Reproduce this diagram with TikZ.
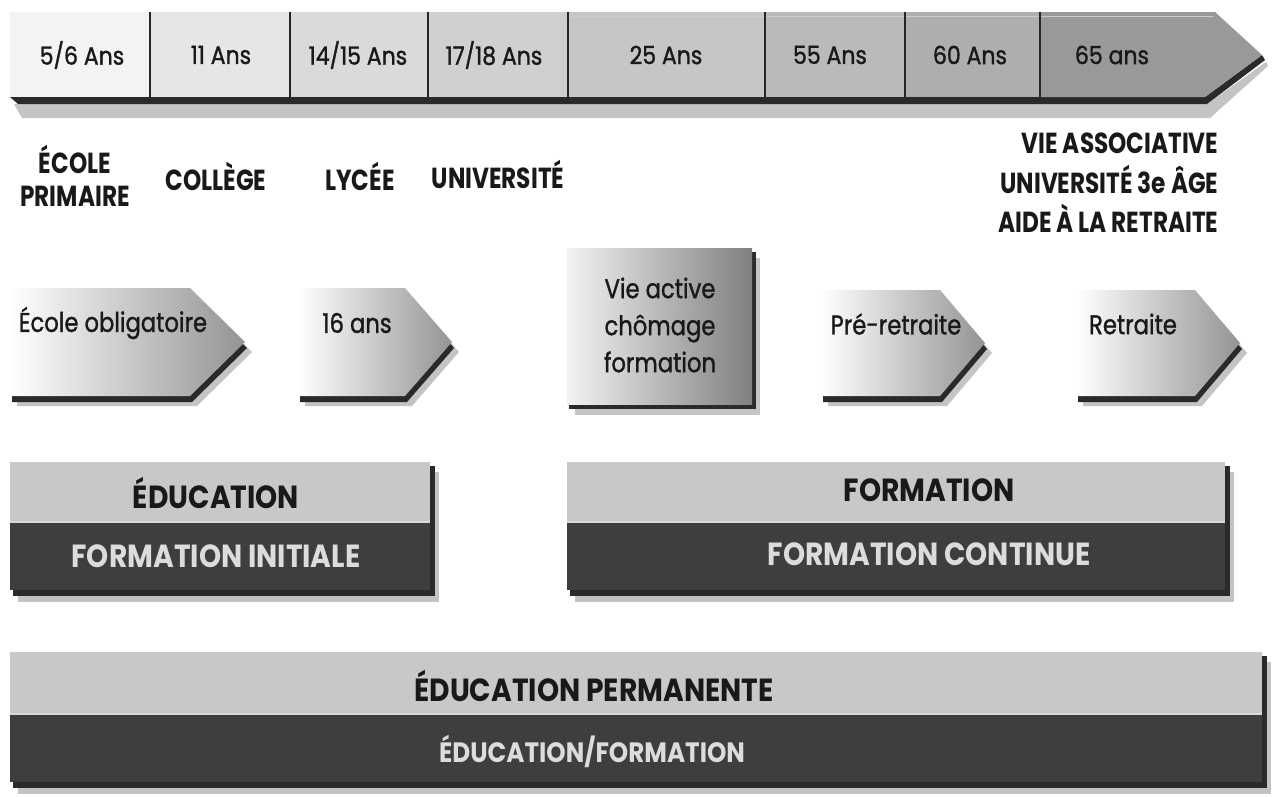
\documentclass[tikz,border=0pt]{standalone}
\usepackage{fontspec}
\setmainfont{Poppins}
\newfontfamily\cond[FakeStretch=0.88,FakeBold=1.2]{Poppins}
\newfontfamily\arrf[FakeStretch=0.84,FakeBold=1.2]{Poppins}
\newfontfamily\condb[FakeStretch=0.8]{Poppins}
\newfontfamily\wide[FakeStretch=0.88]{Poppins}
\definecolor{sA}{HTML}{F3F3F3}
\definecolor{sB}{HTML}{E6E6E6}
\definecolor{sC}{HTML}{DADADA}
\definecolor{sD}{HTML}{D0D0D0}
\definecolor{sE}{HTML}{C6C6C6}
\definecolor{sF}{HTML}{BABABA}
\definecolor{sG}{HTML}{AEAEAE}
\definecolor{sH}{HTML}{999999}
\definecolor{lightbar}{HTML}{C8C8C8}
\definecolor{darkbar}{HTML}{3E3E3E}
\definecolor{shadowdark}{HTML}{2A2A2A}
\definecolor{shadowlight}{HTML}{C4C4C4}
\definecolor{pale}{HTML}{DCDCDC}
\tikzset{
  toplbl/.style={font=\cond\fontsize{25}{28}\selectfont, text=black!90},
  sublbl/.style={font=\condb\bfseries\fontsize{29}{33}\selectfont, align=center, text=black!90},
  arrlbl/.style={font=\arrf\fontsize{27}{37}\selectfont, align=center, text=black!90},
  barlight/.style={font=\wide\bfseries\fontsize{32}{36}\selectfont, text=black!90},
  bardark/.style={font=\wide\bfseries\fontsize{32}{36}\selectfont, text=pale},
}
% pentagon arrow: #1 left x, #2 head start x, #3 tip x, #4 top y, #5 bottom y
\newcommand\arrowshp[5]{%
  \fill[shadowlight,shift={(7,10)}] (#1,#4) -- (#2,#4) -- (#3,{(#4+#5)/2}) -- (#2,#5) -- (#1,#5) -- cycle;
  \fill[shadowdark,shift={(2,6)}] (#1,#4) -- (#2,#4) -- (#3,{(#4+#5)/2}) -- (#2,#5) -- (#1,#5) -- cycle;
  \shade[left color=white, right color=black!42] (#1,#4) -- (#2,#4) -- (#3,{(#4+#5)/2}) -- (#2,#5) -- (#1,#5) -- cycle;
}
% two-tone bar: #1 left, #2 right, #3 top, #4 divider, #5 bottom
\newcommand\twobar[5]{%
  \fill[shadowlight] ({#1+8},{#3+10}) rectangle ({#2+9},{#5+12});
  \fill[shadowdark] ({#1+3},{#3+4}) rectangle ({#2+5},{#5+6});
  \fill[lightbar] (#1,#3) rectangle (#2,#4);
  \fill[darkbar] (#1,#4) rectangle (#2,#5);
  \draw[white!85!black, line width=1.5pt] (#1,#4) -- (#2,#4);
}
\begin{document}
\begin{tikzpicture}[x=1pt,y=-1pt]
\useasboundingbox (0,0) rectangle (1277,796);
\fill[white] (0,0) rectangle (1277,796);

% ---------- top age band ----------
\fill[shadowlight] (14,104) -- (1207,104) -- (1266,62) -- (1268,66) -- (1210,118) -- (22,118) -- cycle;
\fill[shadowdark] (10,97) -- (1205,97) -- (1262,55) -- (1265,60) -- (1207,104) -- (18,104) -- cycle;
\fill[sA] (10,12) rectangle (150,97);
\fill[sB] (150,12) rectangle (290,97);
\fill[sC] (290,12) rectangle (428,97);
\fill[sD] (428,12) rectangle (568,97);
\fill[sE] (568,12) rectangle (765,97);
\fill[sF] (765,12) rectangle (905,97);
\fill[sG] (905,12) rectangle (1040,97);
\fill[sH] (1040,12) -- (1215,12) -- (1262,55) -- (1205,97) -- (1040,97) -- cycle;
\draw[white!80!black, line width=1pt] (430,16) -- (1213,16);
\foreach \xx in {150,290,428,568,765,905,1040}
  \draw[black!85, line width=2.2pt] (\xx,12) -- (\xx,97);

\node[toplbl] (a1) at (82,55) {5/6 Ans};
\node[toplbl] (a2) at (221,55) {11 Ans};
\node[toplbl] (a3) at (358,55) {14/15 Ans};
\node[toplbl] (a4) at (494,55) {17/18 Ans};
\node[toplbl] (a5) at (666,55) {25 Ans};
\node[toplbl] (a6) at (830,55) {55 Ans};
\node[toplbl] (a7) at (970,55) {60 Ans};
\node[toplbl] (a8) at (1112,55) {65 ans};

% ---------- school levels ----------
\node[sublbl] (s1) at (75,176) {ÉCOLE\\PRIMAIRE};
\node[sublbl] (s2) at (216,176) {COLLÈGE};
\node[sublbl] (s3) at (360,176) {LYCÉE};
\node[sublbl] (s4) at (498,174) {UNIVERSITÉ};
\node[sublbl, font=\condb\bfseries\fontsize{29}{39.5}\selectfont, align=right, anchor=east] (s5) at (1222,183)
  {VIE ASSOCIATIVE\\UNIVERSITÉ 3e ÂGE\\AIDE À LA RETRAITE};

% ---------- stage arrows ----------
\arrowshp{10}{190}{245}{288}{396}
\arrowshp{298}{405}{452}{288}{396}
\arrowshp{821}{940}{985}{290}{396}
\arrowshp{1076}{1195}{1240}{290}{396}
% Vie active box
\fill[shadowlight] (575,258) rectangle (760,415);
\fill[shadowdark] (569,252) rectangle (756,409);
\shade[left color=white!95!black, right color=black!50] (567,248) rectangle (752,404);

\node[arrlbl] (b1) at (113,323) {École obligatoire};
\node[arrlbl] (b2) at (357,323) {16 ans};
\node[arrlbl] (b3) at (660,325) {Vie active\\chômage\\formation};
\node[arrlbl] (b4) at (896,324) {Pré-retraite};
\node[arrlbl] (b5) at (1133,324) {Retraite};

% ---------- bottom bars ----------
\twobar{10}{430}{462}{522}{590}
\twobar{567}{1225}{462}{522}{590}
\twobar{10}{1262}{652}{714}{782}

\node[barlight] (c1) at (216,493) {ÉDUCATION};
\node[bardark] (c2) at (216,556) {FORMATION INITIALE};
\node[barlight] (c3) at (929,490) {FORMATION};
\node[bardark] (c4) at (929,554) {FORMATION CONTINUE};
\node[barlight] (c5) at (594,686) {ÉDUCATION PERMANENTE};
\node[bardark, font=\wide\bfseries\fontsize{28}{32}\selectfont] (c6) at (592,751) {ÉDUCATION/FORMATION};
\end{tikzpicture}
\end{document}
